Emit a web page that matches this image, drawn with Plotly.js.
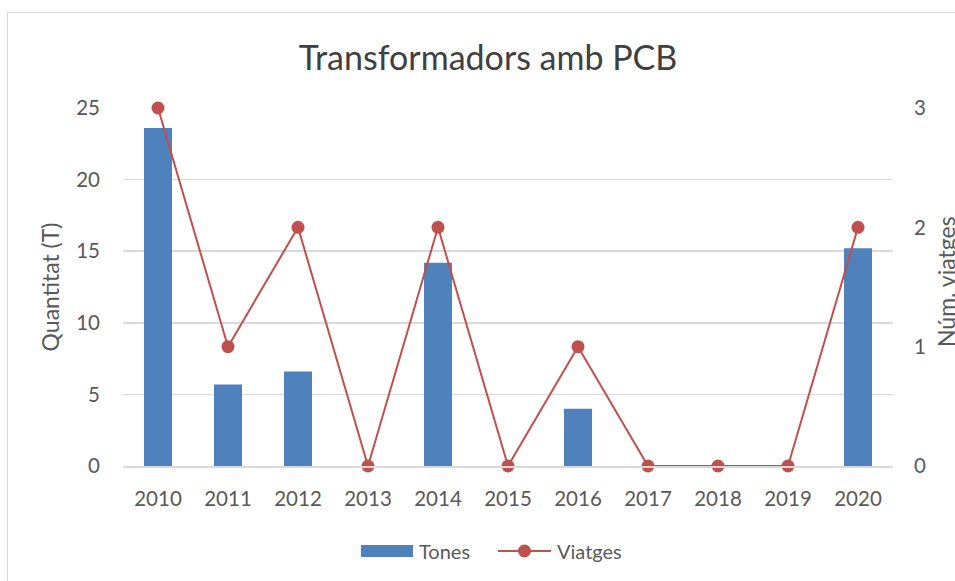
<!DOCTYPE html>
<html>
<head>
<meta charset="utf-8">
<script src="https://cdn.plot.ly/plotly-3.0.1.min.js"></script>
<style>
html,body{margin:0;padding:0;background:#fff;overflow:hidden;}
#frame{position:absolute;left:7px;top:12px;width:1000px;height:620px;border:1px solid #d9d9d9;box-sizing:border-box;}
#chart{position:absolute;left:0;top:0;width:955px;height:581px;}
</style>
</head>
<body>
<div id="frame"></div>
<div id="chart"></div>
<script>
const years = ['2010','2011','2012','2013','2014','2015','2016','2017','2018','2019','2020'];
const tones = [23.6, 5.7, 6.6, 0, 14.2, 0, 4.0, 0, 0, 0, 15.2];
const viatges = [3, 1, 2, 0, 2, 0, 1, 0, 0, 0, 2];
const leftTicks = [0, 5, 10, 15, 20, 25];
const rightTicks = [0, 1, 2, 3];
const seriesNames = ['Tones', 'Viatges'];
const rightTitle = 'Núm. viatges';

const font = 'Lato, "Open Sans", sans-serif';
const blue = '#4f81bd', red = '#c0504d';
const data = [
  {type:'bar', name:seriesNames[0], x:years, y:tones, marker:{color:blue}, width:0.4, yaxis:'y', showlegend:false},
  {type:'scatter', mode:'lines+markers', name:seriesNames[1], x:years, y:viatges, yaxis:'y2', cliponaxis:false,
   line:{color:red, width:2}, marker:{color:red, size:13}, showlegend:false}
];

// custom legend (paper coordinates: plot area spans x 123..893px, y 108..466px)
const L = 123, W = 770, B = 466, H = 358;
const px = v => (v - L) / W;
const py = v => (B - v) / H;
const legY = py(551);
const shapes = [
  {type:'rect', xref:'paper', yref:'paper', x0:px(361), x1:px(413), y0:py(557), y1:py(545), fillcolor:blue, line:{width:0}},
  {type:'line', xref:'paper', yref:'paper', x0:px(498), x1:px(551), y0:legY, y1:legY, line:{color:red, width:2}},
  {type:'circle', xref:'paper', yref:'paper', xsizemode:'pixel', ysizemode:'pixel', xanchor:px(524.5), yanchor:legY,
   x0:-6.5, x1:6.5, y0:-6.5, y1:6.5, fillcolor:red, line:{width:0}}
];
const annotations = [
  {xref:'paper', yref:'paper', x:px(417), y:legY, xanchor:'left', yanchor:'middle', text:seriesNames[0], showarrow:false, font:{size:20, color:'#595959'}},
  {xref:'paper', yref:'paper', x:px(555), y:legY, xanchor:'left', yanchor:'middle', text:seriesNames[1], showarrow:false, font:{size:20, color:'#595959'}},
  {xref:'paper', yref:'paper', x:px(946), y:py(282), xanchor:'center', yanchor:'middle', textangle:-90, text:rightTitle, showarrow:false, font:{size:23, color:'#595959'}}
];

const layout = {
  width:955, height:581,
  margin:{l:123, r:62, t:108, b:115},
  paper_bgcolor:'rgba(0,0,0,0)', plot_bgcolor:'rgba(0,0,0,0)',
  font:{family:font, color:'#595959', size:20},
  title:{text:'Transformadors amb PCB', font:{family:font, size:34, color:'#404040'}, x:0.511, xanchor:'center', y:0.9, yref:'container', yanchor:'middle'},
  showlegend:false,
  shapes:shapes,
  annotations:annotations,
  xaxis:{type:'category', range:[-0.5, 10.5], showgrid:false, showline:true, linecolor:'#d9d9d9', linewidth:1.5, ticks:'', ticklabelstandoff:14, tickfont:{size:20.5}},
  yaxis:{range:[0,25], tickvals:leftTicks, showgrid:true, gridcolor:'#d9d9d9', gridwidth:1.5, zeroline:false, showline:false, ticks:'', ticklabelstandoff:22, tickfont:{size:20.5},
         title:{text:'Quantitat (T)', font:{size:23, color:'#595959'}, standoff:10}},
  yaxis2:{range:[0,3], tickvals:rightTicks, overlaying:'y', side:'right', showgrid:false, zeroline:false, showline:false, ticks:'', ticklabelstandoff:20, tickfont:{size:20.5}}
};
Plotly.newPlot('chart', data, layout, {displayModeBar:false, staticPlot:true});
</script>
</body>
</html>
